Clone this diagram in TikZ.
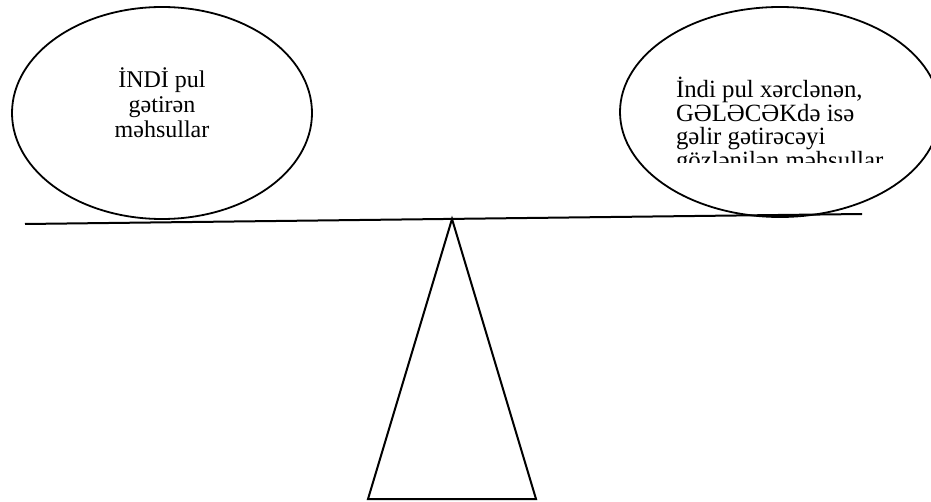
\documentclass[tikz,border=0pt]{standalone}
\usepackage{fontspec}
\setmainfont{Liberation Serif}
\usetikzlibrary{shapes.geometric}
\tikzset{tpx/.style={x=0.5pt,y=-0.5pt,every node/.style={inner sep=0pt,outer sep=0pt}}}
\definecolor{trline}{HTML}{000000}
\tikzset{
  goz/.style={ellipse,draw=trline,line width=0.9pt,inner sep=0pt},
  qol/.style={draw=trline,line width=1pt},
  yazi/.style={font=\fontsize{12}{12.5}\selectfont,text=trline},
  yazisix/.style={font=\fontsize{12.4}{11.8}\selectfont,text=trline},
}

\begin{document}
\begin{tikzpicture}[tpx]
  \useasboundingbox (0,0) rectangle (931,502);
  \clip (0,0) rectangle (931,502);
  \coordinate (qa) at (25,224);
  \coordinate (qb) at (862,214);
  \coordinate (ust) at (452,219);
  \coordinate (sol) at (368,499);
  \coordinate (sag) at (536,499);
  \draw[qol] (qa) -- (qb);
  \draw[qol,line join=miter] (ust) -- (sag) -- (sol) -- cycle;
  \node[goz,minimum width=150pt,minimum height=106pt] (indi) at (162,113) {};
  \node[goz,minimum width=160pt,minimum height=105pt] (gelecek) at (780,112) {};
  \node[yazi,align=center,anchor=north] (tindi) at (162,68) {İNDİ pul\\gətirən\\məhsullar};
  \begin{scope}
    \clip (600,0) rectangle (931,163);
    \node[yazisix,align=left,anchor=north west] (tgelecek) at (676,77)
      {İndi pul xərclənən,\\GƏLƏCƏKdə isə\\gəlir gətirəcəyi\\gözlənilən məhsullar};
  \end{scope}
\end{tikzpicture}
\end{document}
